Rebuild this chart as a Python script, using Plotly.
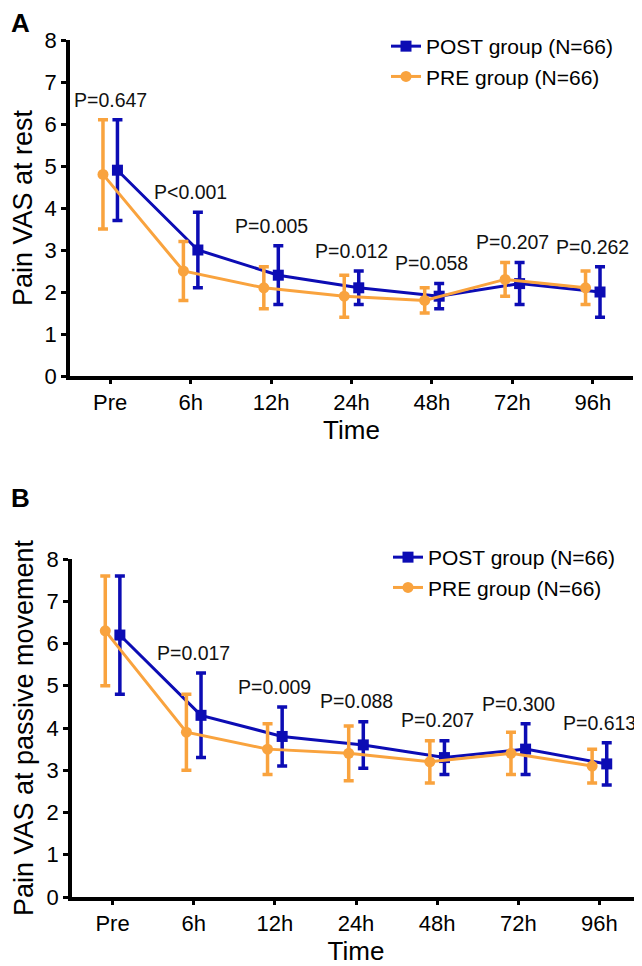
import plotly.graph_objects as go

categories = ["Pre", "6h", "12h", "24h", "48h", "72h", "96h"]

rest_post_mean = [4.9, 3.0, 2.4, 2.1, 1.9, 2.2, 2.0]
rest_post_sd = [1.2, 0.9, 0.7, 0.4, 0.3, 0.5, 0.6]
rest_pre_mean = [4.8, 2.5, 2.1, 1.9, 1.8, 2.3, 2.1]
rest_pre_sd = [1.3, 0.7, 0.5, 0.5, 0.3, 0.4, 0.4]
rest_p = ["P=0.647", "P<0.001", "P=0.005", "P=0.012", "P=0.058", "P=0.207", "P=0.262"]

move_post_mean = [6.2, 4.3, 3.8, 3.6, 3.3, 3.5, 3.15]
move_post_sd = [1.4, 1.0, 0.7, 0.55, 0.4, 0.6, 0.5]
move_pre_mean = [6.3, 3.9, 3.5, 3.4, 3.2, 3.4, 3.1]
move_pre_sd = [1.3, 0.9, 0.6, 0.65, 0.5, 0.5, 0.4]
move_p = ["P=0.672", "P=0.017", "P=0.009", "P=0.088", "P=0.207", "P=0.300", "P=0.613"]

post_name = "POST group (N=66)"
pre_name = "PRE group (N=66)"

BLUE = "#0C0CB4"
ORANGE = "#F9A33E"
FONT = "Arial, Liberation Sans, Helvetica, sans-serif"
W, H = 642, 966
PAGE = 8  # default page body margin
OFF = 0.09


def px(xp):
    return (xp - PAGE) / W


def py(yp):
    return 1 - (yp - PAGE) / H


idx = list(range(len(categories)))
fig = go.Figure()


def add_panel(post_m, post_s, pre_m, pre_s, xa, ya, leg):
    fig.add_trace(go.Scatter(
        x=[i + OFF for i in idx], y=post_m, name=post_name, mode="lines+markers",
        line=dict(color=BLUE, width=3),
        marker=dict(symbol="square", size=11, color=BLUE),
        error_y=dict(type="data", array=post_s, visible=True, color=BLUE, thickness=3.5, width=5),
        xaxis=xa, yaxis=ya, legend=leg, cliponaxis=False))
    fig.add_trace(go.Scatter(
        x=[i - OFF for i in idx], y=pre_m, name=pre_name, mode="lines+markers",
        line=dict(color=ORANGE, width=3),
        marker=dict(symbol="circle", size=11, color=ORANGE),
        error_y=dict(type="data", array=pre_s, visible=True, color=ORANGE, thickness=3.5, width=5),
        xaxis=xa, yaxis=ya, legend=leg, cliponaxis=False))


add_panel(rest_post_mean, rest_post_sd, rest_pre_mean, rest_pre_sd, "x", "y", "legend")
add_panel(move_post_mean, move_post_sd, move_pre_mean, move_pre_sd, "x2", "y2", "legend2")

annotations = []
for labels, pm, ps, qm, qs, xr, yr in [
    (rest_p, rest_post_mean, rest_post_sd, rest_pre_mean, rest_pre_sd, "x", "y"),
    (move_p, move_post_mean, move_post_sd, move_pre_mean, move_pre_sd, "x2", "y2"),
]:
    for i, lab in enumerate(labels):
        top = max(pm[i] + ps[i], qm[i] + qs[i])
        annotations.append(dict(x=i, y=top + 0.48, xref=xr, yref=yr, text=lab,
                                showarrow=False, yanchor="middle", xanchor="center",
                                font=dict(size=19.5, color="#111", family=FONT)))

annotations.append(dict(x=px(9), y=py(23), xref="paper", yref="paper", text="<b>A</b>",
                        showarrow=False, xanchor="left", yanchor="middle",
                        font=dict(size=26, color="black", family=FONT)))
annotations.append(dict(x=px(9), y=py(498), xref="paper", yref="paper", text="<b>B</b>",
                        showarrow=False, xanchor="left", yanchor="middle",
                        font=dict(size=26, color="black", family=FONT)))

xcommon = dict(tickmode="array", tickvals=idx, ticktext=categories, range=[-0.5, 6.5],
               showline=True, linecolor="black", linewidth=3.5, ticks="outside",
               ticklen=4, tickwidth=3, tickcolor="black", showgrid=False, zeroline=False,
               automargin=False,
               tickfont=dict(size=22, color="black", family=FONT),
               title=dict(text="Time", font=dict(size=26, color="black", family=FONT), standoff=8))
ycommon = dict(range=[0, 8], dtick=1, tick0=0, showline=True, linecolor="black", linewidth=3.5,
               ticks="outside", ticklen=5, tickwidth=3, tickcolor="black", showgrid=False,
               zeroline=False, automargin=False, tickfont=dict(size=22, color="black", family=FONT))

fig.update_layout(
    width=W, height=H, margin=dict(l=0, r=0, t=0, b=0),
    paper_bgcolor="white", plot_bgcolor="white",
    font=dict(family=FONT, color="black"),
    xaxis=dict(**xcommon, domain=[px(70), px(633)], anchor="y"),
    yaxis=dict(**ycommon, domain=[py(376), py(40)], anchor="x",
               title=dict(text="Pain VAS at rest", font=dict(size=27, color="black", family=FONT), standoff=6)),
    xaxis2=dict(**xcommon, domain=[px(72), px(640)], anchor="y2"),
    yaxis2=dict(**ycommon, domain=[py(897), py(559)], anchor="x2",
                title=dict(text="Pain VAS at passive movement", font=dict(size=27, color="black", family=FONT), standoff=6)),
    legend=dict(x=px(386), y=py(26), xanchor="left", yanchor="top", bgcolor="rgba(0,0,0,0)",
                font=dict(size=21, color="black", family=FONT), tracegroupgap=0),
    legend2=dict(x=px(388), y=py(537), xanchor="left", yanchor="top", bgcolor="rgba(0,0,0,0)",
                 font=dict(size=21, color="black", family=FONT), tracegroupgap=0),
    annotations=annotations,
)

fig.write_html("out.html")
